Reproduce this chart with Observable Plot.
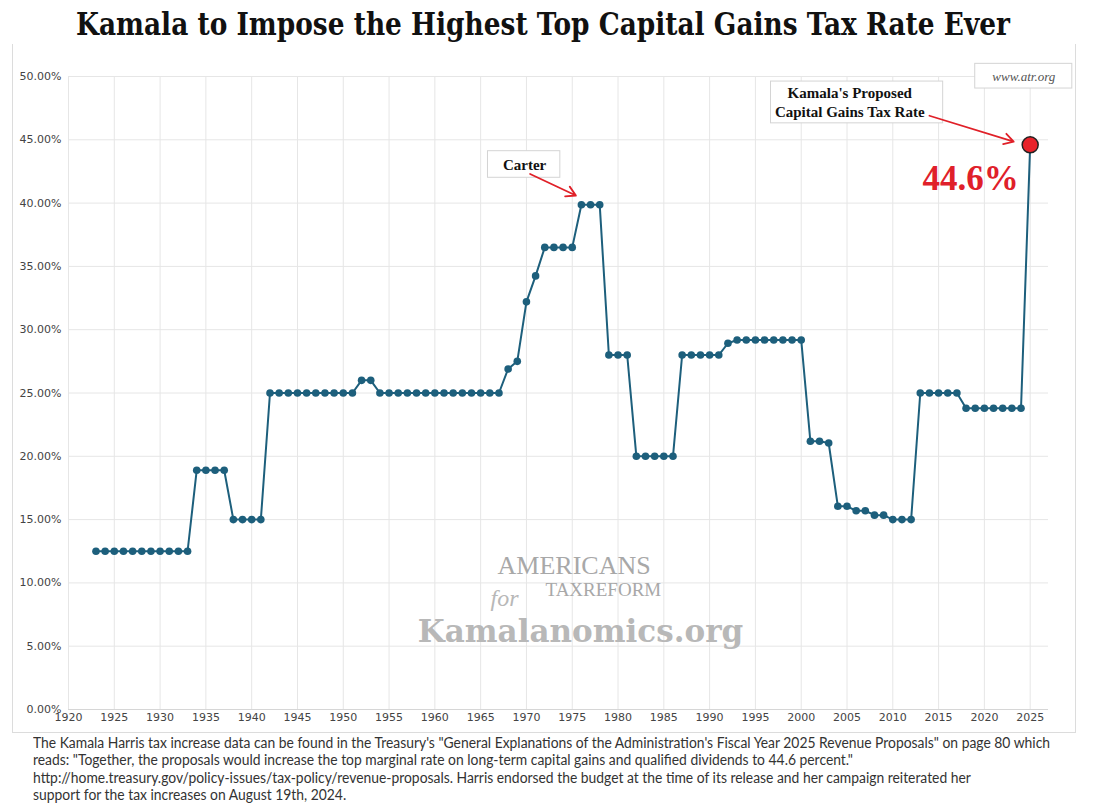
<!DOCTYPE html>
<html>
<head>
<meta charset="utf-8">
<script src="https://cdn.jsdelivr.net/npm/d3@7"></script>
<script src="https://cdn.jsdelivr.net/npm/@observablehq/plot@0.6"></script>
<style>
  html, body { margin: 0; padding: 0; background: #fff; }
  #page { position: relative; width: 1102px; height: 808px; overflow: hidden; }
  #title { position: absolute; left: 76px; top: 6px; white-space: nowrap;
    font-family: "DejaVu Serif", "Liberation Serif", serif; font-weight: bold; font-size: 31px; color: #111;
    transform-origin: left top; }
  #chart { position: absolute; left: 0; top: 48px; }
  #frame { position: absolute; left: 12px; top: 44px; width: 1062px; height: 688px;
    border-left: 1px solid #dcdcdc; border-right: 1px solid #dcdcdc; border-bottom: 1px solid #dcdcdc; }
  #caption { position: absolute; left: 33px; top: 734px; white-space: nowrap;
    font-family: "Lato", "Open Sans", sans-serif; font-size: 14.5px; line-height: 17.3px; color: #333;
    transform-origin: left top; }
</style>
</head>
<body>
<div id="page">
  <div id="frame"></div>
  <div id="title">Kamala to Impose the Highest Top Capital Gains Tax Rate Ever</div>
  <div id="chart"></div>
  <div id="caption">
    <div class="ln">The Kamala Harris tax increase data can be found in the Treasury's "General Explanations of the Administration's Fiscal Year 2025 Revenue Proposals" on page 80 which</div>
    <div class="ln">reads: "Together, the proposals would increase the top marginal rate on long-term capital gains and qualified dividends to 44.6 percent."</div>
    <div class="ln">http://home.treasury.gov/policy-issues/tax-policy/revenue-proposals. Harris endorsed the budget at the time of its release and her campaign reiterated her</div>
    <div class="ln">support for the tax increases on August 19th, 2024.</div>
  </div>
</div>
<script>
// ---- data ----
const years = [
  1923,1924,1925,1926,1927,1928,1929,1930,1931,1932,1933,
  1934,1935,1936,1937,
  1938,1939,1940,1941,
  1942,1943,1944,1945,1946,1947,1948,1949,1950,1951,
  1952,1953,
  1954,1955,1956,1957,1958,1959,1960,1961,1962,1963,1964,1965,1966,1967,
  1968,1969,1970,1971,
  1972,1973,1974,1975,
  1976,1977,1978,
  1979,1980,1981,
  1982,1983,1984,1985,1986,
  1987,1988,1989,1990,1991,
  1992,
  1993,1994,1995,1996,1997,1998,1999,2000,
  2001,2002,2003,
  2004,2005,2006,2007,2008,2009,
  2010,2011,2012,
  2013,2014,2015,2016,2017,
  2018,2019,2020,2021,2022,2023,2024,
  2025
];
const rates = [
  12.5,12.5,12.5,12.5,12.5,12.5,12.5,12.5,12.5,12.5,12.5,
  18.9,18.9,18.9,18.9,
  15,15,15,15,
  25,25,25,25,25,25,25,25,25,25,
  26,26,
  25,25,25,25,25,25,25,25,25,25,25,25,25,25,
  26.9,27.5,32.2,34.25,
  36.5,36.5,36.5,36.5,
  39.875,39.875,39.875,
  28,28,28,
  20,20,20,20,20,
  28,28,28,28,28,
  28.93,
  29.19,29.19,29.19,29.19,29.19,29.19,29.19,29.19,
  21.19,21.19,21.05,
  16.05,16.05,15.7,15.7,15.35,15.35,
  15,15,15,
  25,25,25,25,25,
  23.8,23.8,23.8,23.8,23.8,23.8,23.8,
  44.6
];
const xTicks = [1920,1925,1930,1935,1940,1945,1950,1955,1960,1965,1970,1975,1980,1985,1990,1995,2000,2005,2010,2015,2020,2025];
const yTicks = [0,5,10,15,20,25,30,35,40,45,50];

const proposedYear = 2025;
const proposedRate = 44.6;

// annotations (data coordinates)
const carterBox = [{x1: 1965.8, x2: 1973.7, y1: 42.0, y2: 44.1}];
const carterLabel = [{x: 1969.8, y: 43.0, text: "Carter"}];
const carterArrow = [{x1: 1970.4, y1: 42.3, x2: 1975.4, y2: 40.6}];
const kamalaBox = [{x1: 1996.7, x2: 2015.5, y1: 46.3, y2: 49.6}];
const kamalaLabel = [{x: 2005.3, y: 48.0, text: "Kamala's Proposed\nCapital Gains Tax Rate"}];
const kamalaArrow = [{x1: 2014.0, y1: 46.9, x2: 2023.2, y2: 44.85}];
const valueLabel = [{x: 2018.5, y: 41.9, text: "44.6%"}];
const atrBox = [{x1: 2019.0, x2: 2029.6, y1: 49.05, y2: 51.0}];
const atrLabel = [{x: 2024.3, y: 50.0, text: "www.atr.org"}];
const wmAmericans = [{x: 1975.2, y: 11.4, text: "AMERICANS"}];
const wmTax = [{x: 1978.4, y: 9.45, text: "TAXREFORM"}];
const wmFor = [{x: 1967.6, y: 8.75, text: "for"}];
const wmSite = [{x: 1975.9, y: 6.1, text: "Kamalanomics.org"}];

const data = years.map((y, i) => ({year: y, rate: rates[i]}));
const histData = data.filter(d => d.year < proposedYear);

const plot = Plot.plot({
  width: 1102,
  height: 686,
  marginLeft: 68,
  marginRight: 54,
  marginTop: 28,
  marginBottom: 25,
  style: {fontFamily: "DejaVu Sans", fontSize: "11px", color: "#444", background: "transparent"},
  x: {domain: [1920, 2027], ticks: xTicks, tickFormat: d => String(d), tickSize: 0, tickPadding: 4, label: null},
  y: {domain: [0, 50], ticks: yTicks, tickFormat: d => d.toFixed(2) + "%", tickSize: 0, tickPadding: 7, label: null},
  marks: [
    Plot.gridX(xTicks, {stroke: "#e6e6e6", strokeOpacity: 1, strokeWidth: 1}),
    Plot.gridY(yTicks, {stroke: "#e6e6e6", strokeOpacity: 1, strokeWidth: 1, x1: 1920, x2: 2027}),
    Plot.ruleY([0], {stroke: "#d6d6d6", strokeWidth: 1}),
    Plot.axisX({ticks: xTicks, tickFormat: d => String(d), tickSize: 0, tickPadding: 4, fontSize: 11, fill: "#444"}),
    Plot.axisY({ticks: yTicks, tickFormat: d => d.toFixed(2) + "%", tickSize: 0, tickPadding: 7, fontSize: 11, fill: "#444"}),
    // watermark
    Plot.text(wmFor, {x: "x", y: "y", text: "text", fontFamily: "Liberation Serif", fontStyle: "italic", fontSize: 24, fill: "#b8b8b8"}),
    Plot.text(wmAmericans, {x: "x", y: "y", text: "text", fontFamily: "Liberation Serif", fontSize: 26, fill: "#a8a8a8"}),
    Plot.text(wmTax, {x: "x", y: "y", text: "text", fontFamily: "Liberation Serif", fontSize: 19, fill: "#a8a8a8"}),
    Plot.text(wmSite, {x: "x", y: "y", text: "text", fontFamily: "DejaVu Serif", fontWeight: "bold", fontSize: 31, fill: "#b8b8b8"}),
    // series
    Plot.line(data, {x: "year", y: "rate", stroke: "#1d5f7c", strokeWidth: 2}),
    Plot.dot(histData, {x: "year", y: "rate", r: 3.8, fill: "#1d5f7c", stroke: "none"}),
    Plot.dot([{year: proposedYear, rate: proposedRate}], {x: "year", y: "rate", r: 8, fill: "#e8232b", stroke: "#222", strokeWidth: 1.5}),
    // annotations
    Plot.rect(carterBox, {x1: "x1", x2: "x2", y1: "y1", y2: "y2", fill: "#fff", stroke: "#d4d4d4"}),
    Plot.text(carterLabel, {x: "x", y: "y", text: "text", fontFamily: "Liberation Serif", fontWeight: "bold", fontSize: 15, fill: "#111"}),
    Plot.arrow(carterArrow, {x1: "x1", y1: "y1", x2: "x2", y2: "y2", stroke: "#e02028", strokeWidth: 1.8, headLength: 9, bend: 0}),
    Plot.rect(kamalaBox, {x1: "x1", x2: "x2", y1: "y1", y2: "y2", fill: "#fff", stroke: "#d4d4d4"}),
    Plot.text(kamalaLabel, {x: "x", y: "y", text: "text", fontFamily: "Liberation Serif", fontWeight: "bold", fontSize: 15, lineHeight: 1.25, fill: "#111"}),
    Plot.arrow(kamalaArrow, {x1: "x1", y1: "y1", x2: "x2", y2: "y2", stroke: "#e02028", strokeWidth: 1.8, headLength: 9, bend: 0}),
    Plot.text(valueLabel, {x: "x", y: "y", text: "text", fontFamily: "Liberation Serif", fontWeight: "bold", fontSize: 35, fill: "#e0202a"}),
    Plot.rect(atrBox, {x1: "x1", x2: "x2", y1: "y1", y2: "y2", fill: "#fff", stroke: "#d4d4d4"}),
    Plot.text(atrLabel, {x: "x", y: "y", text: "text", fontFamily: "Liberation Serif", fontStyle: "italic", fontSize: 13, fill: "#555"})
  ]
});
document.getElementById("chart").appendChild(plot);

// fit title and caption widths
function fit(id, target) {
  const el = document.getElementById(id);
  const w = el.getBoundingClientRect().width;
  el.style.transform = `scaleX(${target / w})`;
}
fit("title", 934);
(function () {
  const cap = document.getElementById("caption");
  const first = cap.querySelector(".ln");
  const range = document.createRange();
  range.selectNodeContents(first);
  const w = range.getBoundingClientRect().width;
  cap.style.transform = `scaleX(${1017 / w})`;
})();
</script>
</body>
</html>
